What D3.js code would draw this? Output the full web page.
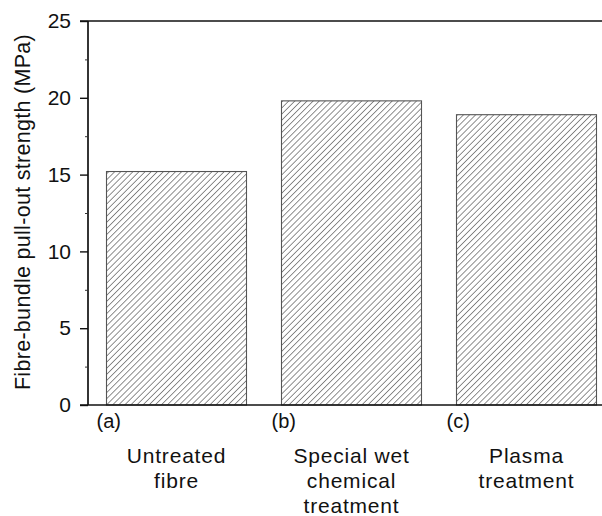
<!DOCTYPE html>
<html><head><meta charset="utf-8">
<script src="https://cdn.jsdelivr.net/npm/d3@7"></script>
<style>body{margin:0;background:#fff}svg{display:block}text{font-family:"Liberation Sans",Arial,sans-serif;fill:#111}</style>
</head><body><svg id="c" width="602" height="516"></svg>
<script>
const categories = ["(a)", "(b)", "(c)"];
const categoryNames = [["Untreated", "fibre"], ["Special wet", "chemical", "treatment"], ["Plasma", "treatment"]];
const values = [15.2, 19.8, 18.9];
const yTicks = [0, 5, 10, 15, 20, 25];
const yMinorTicks = [2.5, 7.5, 12.5, 17.5, 22.5];
const yLabel = "Fibre-bundle pull-out strength (MPa)";

const svg = d3.select("#c");
const y = d3.scaleLinear().domain([0, 25]).range([405, 21]);
const x = d3.scaleBand().domain(categories).range([89, 614]).paddingInner(0.2).paddingOuter(0.1);

const defs = svg.append("defs");
const pat = defs.append("pattern").attr("id", "hatch").attr("patternUnits", "userSpaceOnUse")
  .attr("width", 4.3).attr("height", 4.3).attr("patternTransform", "rotate(45)");
pat.append("line").attr("x1", 0).attr("y1", 0).attr("x2", 0).attr("y2", 4.3)
  .attr("stroke", "#333").attr("stroke-width", 1.1);

// bars
svg.selectAll("rect.bar").data(values).join("rect").attr("class", "bar")
  .attr("x", (d, i) => x(categories[i])).attr("width", x.bandwidth())
  .attr("y", d => y(d)).attr("height", d => y(0) - y(d))
  .attr("fill", "url(#hatch)").attr("stroke", "#555").attr("stroke-width", 1.1);

// axes frame
svg.append("line").attr("x1", 80).attr("x2", 602).attr("y1", y(0)).attr("y2", y(0)).attr("stroke", "#111").attr("stroke-width", 1.7);
svg.append("line").attr("x1", 80).attr("x2", 602).attr("y1", y(25)).attr("y2", y(25)).attr("stroke", "#111").attr("stroke-width", 1.5);

const yAxis = d3.axisLeft(y).tickValues(yTicks).tickSize(8).tickPadding(9).tickFormat(d3.format("d"));
const gy = svg.append("g").attr("transform", "translate(88,0)").call(yAxis);
gy.select(".domain").attr("stroke", "#111").attr("stroke-width", 1.7).attr("d", `M0,${y(25)}V${y(0)}`);
gy.selectAll(".tick line").attr("stroke", "#111").attr("stroke-width", 1.4);
gy.selectAll(".tick text").attr("font-size", 21).attr("fill", "#111").style("font-family", '"Liberation Sans",Arial,sans-serif');
const gyMinor = svg.append("g").attr("transform", "translate(88,0)").call(d3.axisLeft(y).tickValues(yMinorTicks).tickSize(3).tickFormat(""));
gyMinor.select(".domain").remove();
gyMinor.selectAll(".tick line").attr("stroke", "#333").attr("stroke-width", 1);

// y label
svg.append("text").attr("transform", "translate(30,212) rotate(-90)").attr("text-anchor", "middle")
  .attr("font-size", 21.5).attr("letter-spacing", 0.3).text(yLabel);

// category labels
svg.selectAll("text.cat").data(categories).join("text").attr("class", "cat")
  .attr("x", d => x(d) - 10).attr("y", 428).attr("font-size", 20).text(d => d);
const nameG = svg.selectAll("g.name").data(categoryNames).join("g").attr("class", "name");
nameG.each(function(lines, i) {
  const cx = x(categories[i]) + x.bandwidth() / 2;
  d3.select(this).selectAll("text").data(lines).join("text")
    .attr("x", cx).attr("y", (d, j) => 463 + j * 25).attr("text-anchor", "middle")
    .attr("font-size", 21).attr("letter-spacing", 0.8).text(d => d);
});
</script></body></html>
